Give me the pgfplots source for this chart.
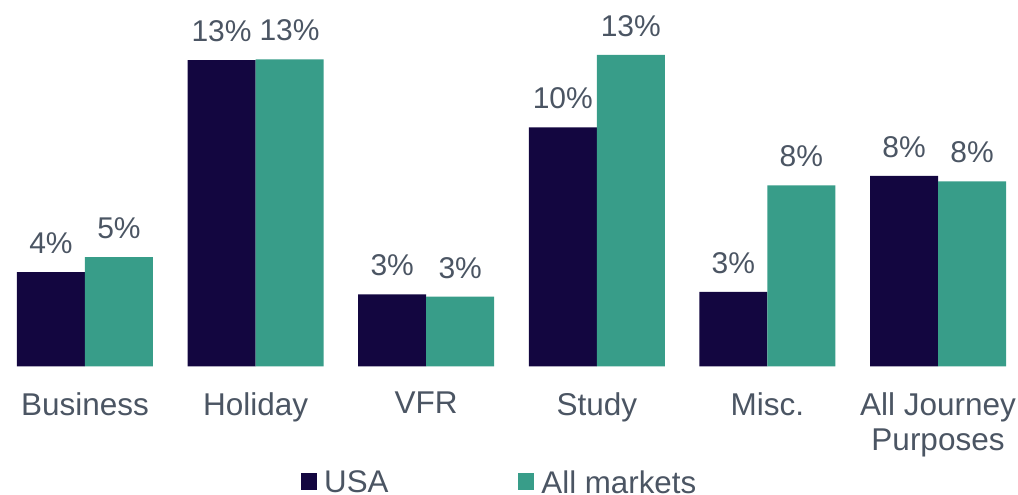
\documentclass[border=0pt]{standalone}
\usepackage{fontspec}
\setmainfont{Liberation Sans}
\usepackage{pgfplots}
\pgfplotsset{compat=1.18}
\definecolor{textgray}{RGB}{75,85,99}
\definecolor{usa}{RGB}{19,6,64}
\definecolor{allm}{RGB}{56,157,137}
\begin{document}
\begin{tikzpicture}
\begin{axis}[
  at={(0bp,128.5bp)}, anchor=south west,
  scale only axis, width=1018bp, height=366.5bp,
  xmin=-0.498, xmax=5.469, ymin=0, ymax=15.596,
  ybar=0pt, bar width=68bp,
  axis line style={draw=none}, major tick length=0pt,
  ytick=\empty,
  xtick={0,1,2,3,4,5},
  xticklabels={Business,Holiday,VFR,Study,Misc.,{All Journey\\Purposes}},
  xticklabel style={font=\fontsize{31.5bp}{35bp}\selectfont, text=textgray, align=center, anchor=north, yshift=-25.5bp, inner sep=0pt},
  clip=false,
  /pgf/number format/assume math mode=true,
  nodes near coords={\pgfmathprintnumber[fixed,precision=0]{\pgfplotspointmeta}\%},
  every node near coord/.append style={font=\fontsize{30bp}{36bp}\selectfont, text=textgray, anchor=base, yshift=18.5bp, inner sep=0pt},
  legend columns=2,
  legend image code/.code={\fill[#1] (0bp,-8.2bp) rectangle (16bp,8.2bp);},
  legend style={draw=none, fill=none, inner sep=0pt, outer sep=0pt,
    at={(rel axis cs:0.2954,-0.3452)}, anchor=south west,
    nodes={inner sep=0pt, text depth=0pt, font=\fontsize{31.3bp}{36bp}\selectfont, text=textgray},
    /tikz/every odd column/.append style={column sep=7.5bp},
    /tikz/every even column/.append style={column sep=129.4bp}},
  legend cell align=left,
]
\addplot[fill=usa, draw=none] coordinates {(0,4.02) (1,13.04) (2,3.07) (3,10.18) (4,3.18) (5,8.11)};
\addplot[fill=allm, draw=none] coordinates {(0,4.65) (1,13.07) (2,2.97) (3,13.26) (4,7.71) (5,7.88)};
\legend{USA,All markets}
\end{axis}
\pgfresetboundingbox
\useasboundingbox (0,0) rectangle (1018bp,495bp);
\end{tikzpicture}
\end{document}
